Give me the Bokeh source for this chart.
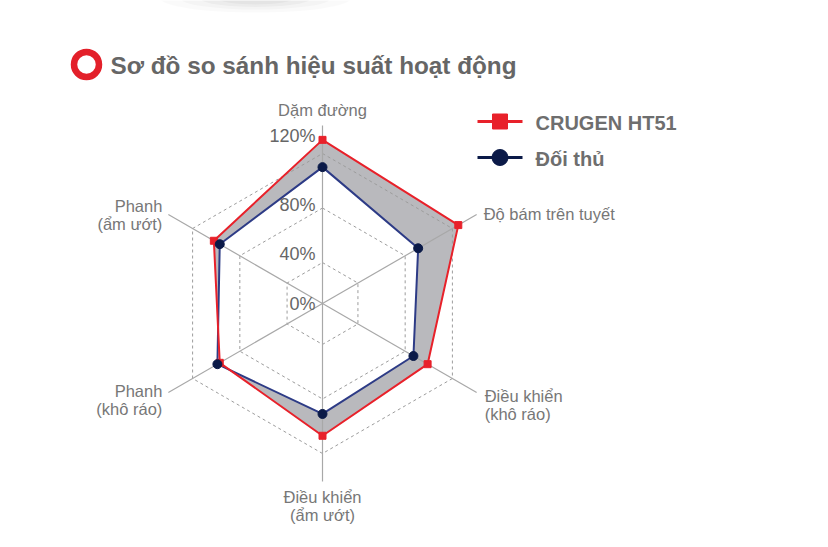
import numpy as np
from bokeh.plotting import figure
from bokeh.models import Range1d
from bokeh.core.properties import value
from bokeh.embed import file_html
from bokeh.resources import INLINE

# ---------------- data ----------------
title_text = "Sơ đồ so sánh hiệu suất hoạt động"
categories = ["Dặm đường", "Độ bám trên tuyết", "Điều khiển\n(khô ráo)",
              "Điều khiển\n(ẩm ướt)", "Phanh\n(khô ráo)", "Phanh\n(ẩm ướt)"]
series_names = ["CRUGEN HT51", "Đối thủ"]
crugen = [130, 125, 99, 107, 97, 102]
rival = [110, 91, 87, 91, 99, 97]
ticks = [0, 40, 80, 120]
tick_labels = ["0%", "40%", "80%", "120%"]

# ---------------- style / geometry ----------------
W, H = 812, 531
CX, CY = 322, 303          # centre of the radar (page pixels)
R = 150                    # radius of the outer (120%) ring
V0, VMAX = 10, 120         # radial scale domain
SPOKE = 178
RED = "#e8212a"
NAVY_LINE = "#2d3b86"
NAVY = "#0b1a48"
GREY_FILL = "#b9b9bd"
GRID = "#9c9c9c"
TXT = "#666666"
FONT = value("Liberation Sans")

angles = np.deg2rad([90, 30, -30, -90, -150, 150])


def rad(v):
    return max(0.0, (v - V0) / (VMAX - V0)) * R


def polar(vals):
    r = np.array([rad(v) for v in vals])
    return list(CX + r * np.cos(angles)), list(CY - r * np.sin(angles))


p = figure(width=W, height=H, x_range=Range1d(0, W), y_range=Range1d(H, 0),
           output_backend="svg", toolbar_location=None, min_border=0)
p.axis.visible = False
p.xgrid.visible = False
p.ygrid.visible = False
p.outline_line_color = None
p.background_fill_color = "white"
p.border_fill_color = "white"

# faint shadow at top of page
for w_, h_, a_ in [(190, 28, 0.02), (150, 22, 0.025), (110, 17, 0.03), (75, 12, 0.03)]:
    p.ellipse(x=[255], y=[-2], width=[w_], height=[h_], fill_color="#000000",
              fill_alpha=a_, line_color=None)

# ---------------- fills ----------------
xr, yr = polar(crugen)
xb, yb = polar(rival)
p.patch(xr, yr, fill_color=GREY_FILL, line_color=None)
p.patch(xb, yb, fill_color="white", line_color=None)

# ---------------- grid ----------------
for t in ticks[1:]:
    gx, gy = polar([t] * 6)
    p.line(gx + [gx[0]], gy + [gy[0]], line_color=GRID, line_width=1, line_dash="3 3")
p.segment(x0=[CX] * 6, y0=[CY] * 6,
          x1=list(CX + SPOKE * np.cos(angles)), y1=list(CY - SPOKE * np.sin(angles)),
          line_color="#a8a8a8", line_width=1.2)

# ---------------- series ----------------
p.line(xb + [xb[0]], yb + [yb[0]], line_color=NAVY_LINE, line_width=2)
p.line(xr + [xr[0]], yr + [yr[0]], line_color=RED, line_width=2)
p.scatter(xr, yr, marker="square", size=7, color=RED)
p.scatter(xb, yb, marker="circle", size=9, color=NAVY)

# ---------------- tick labels ----------------
tick_nudge = [0, 9, 3.5, 18]
p.text(x=[CX - 7] * len(ticks),
       y=[CY - rad(t) - n for t, n in zip(ticks, tick_nudge)],
       text=tick_labels, text_align="right", text_baseline="middle",
       text_font=FONT, text_font_size="18px", text_color=TXT)

# ---------------- category labels ----------------
lab_dx = [0, 7, 8, 0, -6, -6]
lab_dy = [-16, -1, 3, 15, -2, -9]
lab_align = ["center", "left", "left", "center", "right", "right"]
LINE_STEP = 18.5
for i, cat in enumerate(categories):
    ex = CX + SPOKE * np.cos(angles[i])
    ey = CY - SPOKE * np.sin(angles[i])
    lines = cat.split("\n")
    p.text(x=[ex + lab_dx[i]] * len(lines),
           y=[ey + lab_dy[i] + k * LINE_STEP for k in range(len(lines))],
           text=lines, text_align=lab_align[i], text_baseline="middle",
           text_font=FONT, text_font_size="16.5px", text_color="#777777")

# ---------------- title ----------------
p.scatter(x=[86], y=[64], marker="circle", size=25, fill_color=None,
          line_color="#e3202a", line_width=6.5)
p.text(x=[110], y=[65], text=[title_text], text_align="left", text_baseline="middle",
       text_font=FONT, text_font_size="24.3px", text_font_style="bold", text_color="#666666")

# ---------------- legend ----------------
leg_y = [121, 157]
leg_col = [RED, NAVY]
leg_marker = ["square", "circle"]
leg_size = [15, 16]
for k in range(2):
    p.line([477, 522], [leg_y[k], leg_y[k]], line_color=leg_col[k], line_width=3)
    p.scatter([499.5], [leg_y[k]], marker=leg_marker[k], size=leg_size[k], color=leg_col[k])
p.text(x=[535, 535], y=[leg_y[0] + 1, leg_y[1] + 1], text=series_names,
       text_align="left", text_baseline="middle", text_font=FONT,
       text_font_size="20px", text_font_style="bold", text_color="#6e6e6e")

open("out.html", "w").write(file_html(p, INLINE))
